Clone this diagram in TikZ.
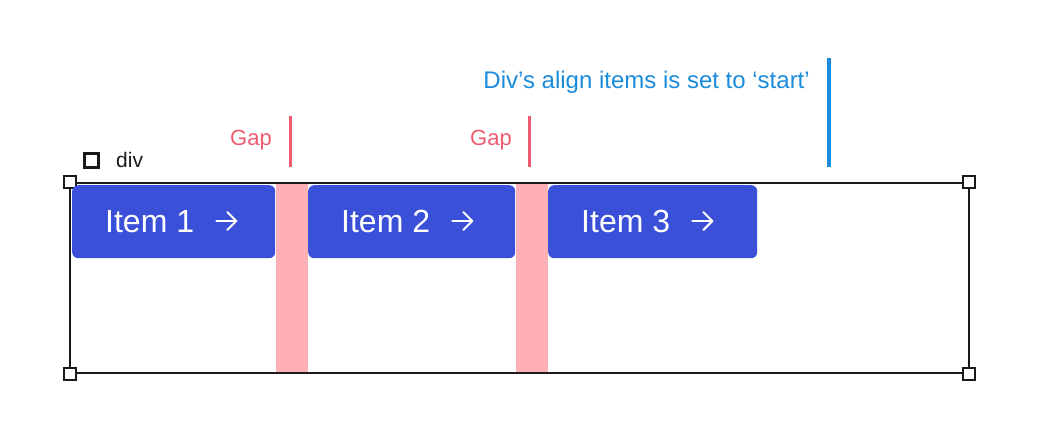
\documentclass[tikz,border=0pt]{standalone}
\usepackage{fontspec}
\setmainfont{Liberation Sans}
\definecolor{itemblue}{HTML}{3A50D9}
\definecolor{gappink}{HTML}{FFB0B6}
\definecolor{gapred}{HTML}{EE5A6E}
\definecolor{noteblue}{HTML}{1A8CDB}
\definecolor{ink}{HTML}{1A1A1A}
\begin{document}
\begin{tikzpicture}[x=1pt,y=-1pt,
  itembox/.style={fill=itemblue,rounded corners=6pt,minimum width=#1,minimum height=73pt,inner sep=0pt,anchor=north west},
  itemtext/.style={text=white,font=\fontsize{32}{32}\selectfont,anchor=base west,inner sep=0pt},
  iarrow/.style={white,line width=2pt,line cap=round,line join=round},
  gaplabel/.style={text=gapred,font=\fontsize{22}{22}\selectfont,inner sep=0pt,anchor=base east},
  gapbar/.style={draw=gapred,line width=3pt},
  handle/.style={draw=ink,fill=white,line width=1.3pt,minimum size=12pt,inner sep=0pt}]
\useasboundingbox (0,0) rectangle (1038,442);
% gap bands
\fill[gappink] (276,183) rectangle (308,372);
\fill[gappink] (516,183) rectangle (548,372);
% outer div box
\draw[ink,line width=1.5pt] (70,183) rectangle (969,373);
\node[handle] (h1) at (70,182) {};
\node[handle] (h2) at (969,182) {};
\node[handle] (h3) at (70,374) {};
\node[handle] (h4) at (969,374) {};
% div label
\node[draw=ink,line width=3pt,minimum size=14pt,inner sep=0pt] (chk) at (91.5,160.5) {};
\node[text=ink,font=\fontsize{21}{21}\selectfont,anchor=base west,inner sep=0pt] (divlbl) at (116,167) {div};
% items
\foreach \i/\x/\w in {1/72/203,2/308/207,3/548/209}{
  \node[itembox=\w pt] (box\i) at (\x,185) {};
  \node[itemtext] (txt\i) at ([xshift=33pt]box\i.west |- 0,232) {Item \i};
  \coordinate (as\i) at ([xshift=22pt]txt\i.base east |- 0,221);
  \draw[iarrow] (as\i) -- ++(20,0);
  \draw[iarrow] (as\i) ++(11,-9) -- ++(9,9) -- ++(-9,9);
}
% gap markers
\draw[gapbar] (290,116) coordinate (g1t) -- (290,167) coordinate (g1b);
\node[gaplabel] (gap1) at (272,145) {Gap};
\draw[gapbar] (529,116) coordinate (g2t) -- (529,167) coordinate (g2b);
\node[gaplabel] (gap2) at (512,145) {Gap};
% align note
\draw[draw=noteblue,line width=4pt] (829,58) coordinate (nt) -- (829,167) coordinate (nb);
\node[text=noteblue,font=\fontsize{24}{24}\selectfont,anchor=base east,inner sep=0pt] (note) at (810,88) {Div’s align items is set to ‘start’};
\end{tikzpicture}
\end{document}
